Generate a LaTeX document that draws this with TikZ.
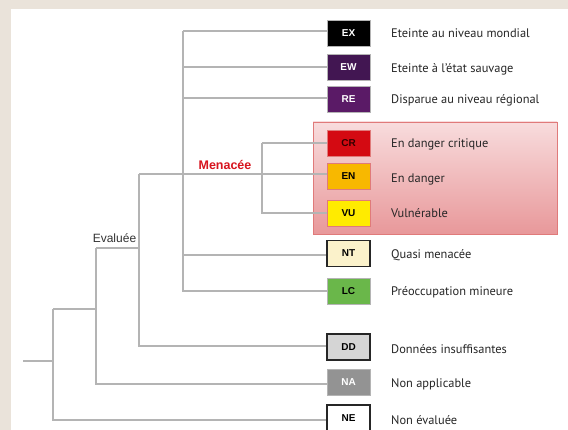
\documentclass[tikz,border=0pt]{standalone}
\usepackage{fontspec}
\setmainfont{PT Sans}
\newfontfamily\arialfont{Liberation Sans}
\begin{document}
\begin{tikzpicture}[x=1pt,y=-1pt,
  tree/.style={draw=treegray,line width=1.1pt},
  cat/.style={draw=#1,minimum width=43pt,minimum height=26pt,inner sep=0pt,font=\arialfont\bfseries\fontsize{10}{12}\selectfont,line width=0.8pt},
  lbl/.style={anchor=west,inner sep=0pt,font=\fontsize{12.4}{14}\selectfont,text=black!85}]
\definecolor{bg}{HTML}{EAE3DA}
\definecolor{treegray}{HTML}{B4B4B4}
\definecolor{cEW}{HTML}{421652}
\definecolor{cRE}{HTML}{5A1A66}
\definecolor{cCR}{HTML}{D40A12}
\definecolor{cEN}{HTML}{F8B800}
\definecolor{cVU}{HTML}{FFEB00}
\definecolor{cNT}{HTML}{FBF2CB}
\definecolor{cLC}{HTML}{6AB74A}
\definecolor{cDD}{HTML}{D5D5D5}
\definecolor{cNA}{HTML}{939393}
\definecolor{pinkT}{HTML}{F8DCDD}
\definecolor{pinkB}{HTML}{E8989A}
\definecolor{pinkE}{HTML}{E07A7A}
\definecolor{menred}{HTML}{D7141E}
\useasboundingbox (0,0) rectangle (568,430);
\fill[bg] (0,0) rectangle (568,430);
\fill[white] (11,9) rectangle (568,430);
% threatened zone
\shade[top color=pinkT,bottom color=pinkB] (313,122) rectangle (557,234);
\draw[pinkE,line width=0.8pt] (313,122) rectangle (557,234);
% category boxes
\node[cat=treegray,fill=black,text=white] (EX) at (348.5,33) {EX};
\node[cat=treegray,fill=cEW,text=white] (EW) at (348.5,67) {EW};
\node[cat=treegray,fill=cRE,text=white] (RE) at (348.5,99.5) {RE};
\node[cat=pinkE,fill=cCR,text=black!80!red] (CR) at (348.5,143) {CR};
\node[cat=pinkE,fill=cEN,text=black] (EN) at (348.5,176.5) {EN};
\node[cat=pinkE,fill=cVU,text=black] (VU) at (348.5,213) {VU};
\node[cat=black!85,fill=cNT,text=black,line width=1.2pt] (NT) at (348.5,253.5) {NT};
\node[cat=treegray,fill=cLC,text=black] (LC) at (348.5,291) {LC};
\node[cat=black!85,fill=cDD,text=black,line width=1.2pt] (DD) at (348.5,347) {DD};
\node[cat=treegray,fill=cNA,text=white] (NA) at (348.5,382) {NA};
\node[cat=black!85,fill=white,text=black,line width=1.2pt] (NE) at (348.5,418) {NE};
% labels
\node[lbl] (tEX) at (391,33) {Eteinte au niveau mondial};
\node[lbl] (tEW) at (391,69) {Eteinte à l'état sauvage};
\node[lbl] (tRE) at (391,100) {Disparue au niveau régional};
\node[lbl] (tCR) at (391,144) {En danger critique};
\node[lbl] (tEN) at (391,179) {En danger};
\node[lbl] (tVU) at (391,213) {Vulnérable};
\node[lbl] (tNT) at (391,255) {Quasi menacée};
\node[lbl] (tLC) at (391,292) {Préoccupation mineure};
\node[lbl] (tDD) at (391,349) {Données insuffisantes};
\node[lbl] (tNA) at (391,384) {Non applicable};
\node[lbl] (tNE) at (391,420) {Non évaluée};
\node[font=\arialfont\bfseries\fontsize{12.5}{14}\selectfont,text=menred,inner sep=0pt] (men) at (225,165) {Menacée};
\node[font=\arialfont\fontsize{12}{14}\selectfont,text=black!80,inner sep=0pt] (eva) at (114.5,238) {Evaluée};
% tree
\coordinate (root) at (23,361);
\coordinate (r1) at (53,309);
\coordinate (r2) at (96,248);
\coordinate (r3) at (139,174);
\coordinate (r4) at (183,31);
\coordinate (r5) at (262,143);
\draw[tree] (root) -- (53,361);
\draw[tree] (r1) -- (53,420) -- (NE.west |- 0,420);
\draw[tree] (r1) -- (96,309);
\draw[tree] (r2) -- (96,384) -- (NA.west |- 0,384);
\draw[tree] (r2) -- (139,248);
\draw[tree] (r3) -- (139,346) -- (DD.west |- 0,346);
\draw[tree] (r3) -- (EN.west |- 0,174);
\draw[tree] (r4) -- (183,291) -- (LC.west |- 0,291);
\draw[tree] (r4) -- (EX.west |- 0,31);
\draw[tree] (183,67) -- (EW.west |- 0,67);
\draw[tree] (183,98) -- (RE.west |- 0,98);
\draw[tree] (183,255) -- (NT.west |- 0,255);
\draw[tree] (r5) -- (262,213) -- (VU.west |- 0,213);
\draw[tree] (r5) -- (CR.west |- 0,143);
\end{tikzpicture}
\end{document}
